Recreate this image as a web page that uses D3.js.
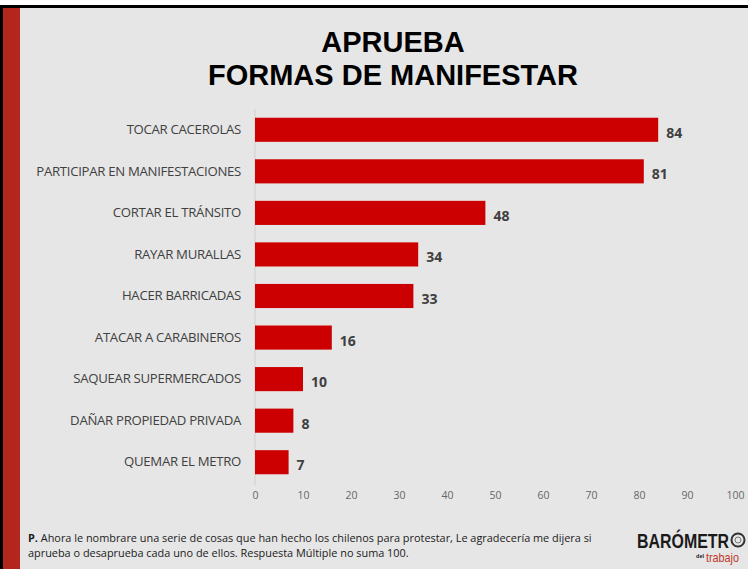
<!DOCTYPE html>
<html>
<head>
<meta charset="utf-8">
<script src="https://cdn.jsdelivr.net/npm/d3@7"></script>
<style>
  body { margin: 0; background: #fff; }
  svg { display: block; }
</style>
</head>
<body>
<div id="chart"></div>
<script>
const width = 748, height = 569

const categories = ['TOCAR CACEROLAS', 'PARTICIPAR EN MANIFESTACIONES', 'CORTAR EL TRÁNSITO',
  'RAYAR MURALLAS', 'HACER BARRICADAS', 'ATACAR A CARABINEROS', 'SAQUEAR SUPERMERCADOS',
  'DAÑAR PROPIEDAD PRIVADA', 'QUEMAR EL METRO']
const values = [84, 81, 48, 34, 33, 16, 10, 8, 7]
const xTicks = [0, 10, 20, 30, 40, 50, 60, 70, 80, 90, 100]
const titleLines = ['APRUEBA', 'FORMAS DE MANIFESTAR']

const svg = d3.select('#chart').append('svg')
  .attr('width', width)
  .attr('height', height)

// slide background + frame
svg.append('rect').attr('x', 0).attr('y', 0).attr('width', width).attr('height', height).attr('fill', '#ffffff')
svg.append('rect').attr('x', 3).attr('y', 8).attr('width', width - 3).attr('height', height - 8).attr('fill', '#e6e6e6')
svg.append('rect').attr('x', 0).attr('y', 5).attr('width', width).attr('height', 3).attr('fill', '#000')
svg.append('rect').attr('x', 0).attr('y', 5).attr('width', 3).attr('height', height - 5).attr('fill', '#000')
svg.append('rect').attr('x', 3).attr('y', 8).attr('width', 17).attr('height', height - 8).attr('fill', '#b3261e')

// title
svg.append('g').selectAll('text')
  .data(titleLines)
  .join('text')
  .attr('x', 393)
  .attr('y', (d, i) => 52 + i * 33)
  .attr('text-anchor', 'middle')
  .style('font-family', 'Liberation Sans, Arial, sans-serif')
  .style('font-weight', 'bold')
  .style('font-size', '29px')
  .style('fill', '#000')
  .text(d => d)

const x = d3.scaleLinear().domain([0, 100]).range([255, 735])
const y = d3.scaleBand().domain(categories).range([109, 483])
  .paddingInner(0.42).paddingOuter(0.21)

// vertical axis line
svg.append('line')
  .attr('x1', x(0)).attr('x2', x(0))
  .attr('y1', 109).attr('y2', 485)
  .style('stroke', '#d0d0d0')
  .style('stroke-width', 1)

// bars
svg.append('g').selectAll('rect')
  .data(values)
  .join('rect')
  .attr('x', x(0))
  .attr('y', (d, i) => y(categories[i]))
  .attr('width', d => x(d) - x(0))
  .attr('height', y.bandwidth())
  .style('fill', '#cc0000')

// value labels
svg.append('g').selectAll('text')
  .data(values)
  .join('text')
  .attr('x', d => x(d) + 8)
  .attr('y', (d, i) => y(categories[i]) + y.bandwidth() / 2 + 8)
  .style('font-family', 'Open Sans, sans-serif')
  .style('font-weight', 'bold')
  .style('font-size', '14px')
  .style('fill', '#404040')
  .text(d => d)

// category labels
const yAxis = d3.axisLeft(y).tickSize(0).tickPadding(14)
const gy = svg.append('g').attr('transform', `translate(${x(0)},0)`).call(yAxis)
gy.select('.domain').remove()
gy.selectAll('text')
  .style('font-family', 'Open Sans, sans-serif')
  .style('font-size', '13.2px')
  .style('letter-spacing', '-0.3px')
  .style('fill', '#404040')

// x tick labels
const xAxis = d3.axisBottom(x).tickValues(xTicks).tickSize(0).tickPadding(0)
const gx = svg.append('g').attr('transform', 'translate(0,492)').call(xAxis)
gx.select('.domain').remove()
gx.selectAll('text')
  .style('font-family', 'Open Sans, sans-serif')
  .style('font-size', '10.5px')
  .style('fill', '#666')

// footnote
const note = svg.append('text')
  .attr('x', 28).attr('y', 542)
  .style('font-family', 'Open Sans, sans-serif')
  .style('font-size', '10.9px')
  .style('fill', '#1a1a1a')
note.append('tspan').style('font-weight', 'bold').text('P.')
note.append('tspan').text(' Ahora le nombrare una serie de cosas que han hecho  los chilenos para protestar, Le agradecería me dijera si')
svg.append('text')
  .attr('x', 28).attr('y', 557)
  .style('font-family', 'Open Sans, sans-serif')
  .style('font-size', '10.9px')
  .style('fill', '#1a1a1a')
  .text('aprueba o desaprueba cada uno de ellos. Respuesta Múltiple no suma 100.')

// logo
const logo = svg.append('g')
logo.append('text')
  .attr('x', 637).attr('y', 548)
  .attr('textLength', 92)
  .attr('lengthAdjust', 'spacingAndGlyphs')
  .style('font-family', 'Liberation Sans, sans-serif')
  .style('font-weight', 'bold')
  .style('font-size', '20px')
  .style('fill', '#1a1a1a')
  .text('BARÓMETR')
logo.append('circle')
  .attr('cx', 738).attr('cy', 540).attr('r', 6.5)
  .style('fill', 'none').style('stroke', '#333').style('stroke-width', 2)
logo.append('circle')
  .attr('cx', 738).attr('cy', 540).attr('r', 3)
  .style('fill', 'none').style('stroke', '#777').style('stroke-width', 1)
logo.append('text')
  .attr('x', 696).attr('y', 558)
  .attr('textLength', 8)
  .attr('lengthAdjust', 'spacingAndGlyphs')
  .style('font-family', 'Liberation Sans, sans-serif')
  .style('font-weight', 'bold')
  .style('font-size', '5px')
  .style('fill', '#1a1a1a')
  .text('del')
logo.append('text')
  .attr('x', 706).attr('y', 562)
  .attr('textLength', 33)
  .attr('lengthAdjust', 'spacingAndGlyphs')
  .style('font-family', 'Liberation Sans, sans-serif')
  .style('font-size', '13px')
  .style('fill', '#c0392b')
  .text('trabajo')
</script>
</body>
</html>
